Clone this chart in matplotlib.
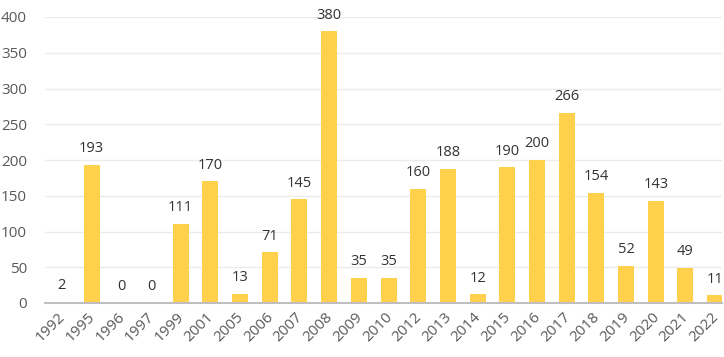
import matplotlib.pyplot as plt
import matplotlib.transforms as mtransforms
import numpy as np

years = ['1992', '1995', '1996', '1997', '1999', '2001', '2005', '2006', '2007', '2008',
         '2009', '2010', '2012', '2013', '2014', '2015', '2016', '2017', '2018', '2019',
         '2020', '2021', '2022']
counts = [2, 193, 0, 0, 111, 170, 13, 71, 145, 380, 35, 35, 160, 188, 12, 190, 200,
          266, 154, 52, 143, 49, 11]

plt.rcParams['font.family'] = ['Open Sans', 'DejaVu Sans']

fig = plt.figure(figsize=(7.24, 3.57), dpi=100)
ax = fig.add_axes([45 / 724, 54 / 357, 677 / 724, 286 / 357])

x = np.arange(len(years))
ax.bar(x, counts, width=0.54, color='#FFD04B', zorder=2)

for xi, c in zip(x, counts):
    ax.text(xi, c + 12, str(c), ha='center', va='bottom', fontsize=10.5, color='#333333')

ax.set_xlim(-0.57, 22.23)
ax.set_ylim(0, 400)
ax.set_yticks(range(0, 401, 50))
ax.set_xticks(x)
ax.set_xticklabels(years, rotation=45, ha='right', rotation_mode='anchor')
ax.tick_params(axis='both', length=0, labelsize=11, labelcolor='#595959')
ax.tick_params(axis='x', pad=5)
ax.tick_params(axis='y', pad=13)

# nudge rotated year labels a little to the left so the last one fits
shift = mtransforms.ScaledTranslation(-4 / 100, 0, fig.dpi_scale_trans)
for lab in ax.get_xticklabels():
    lab.set_transform(lab.get_transform() + shift)

ax.grid(axis='y', color='#EBEBEB', linewidth=1, zorder=0)
for s in ['top', 'right', 'left']:
    ax.spines[s].set_visible(False)
ax.spines['bottom'].set_color('#BFBFBF')
ax.spines['bottom'].set_linewidth(1.5)

fig.savefig('out.png', dpi=100)
